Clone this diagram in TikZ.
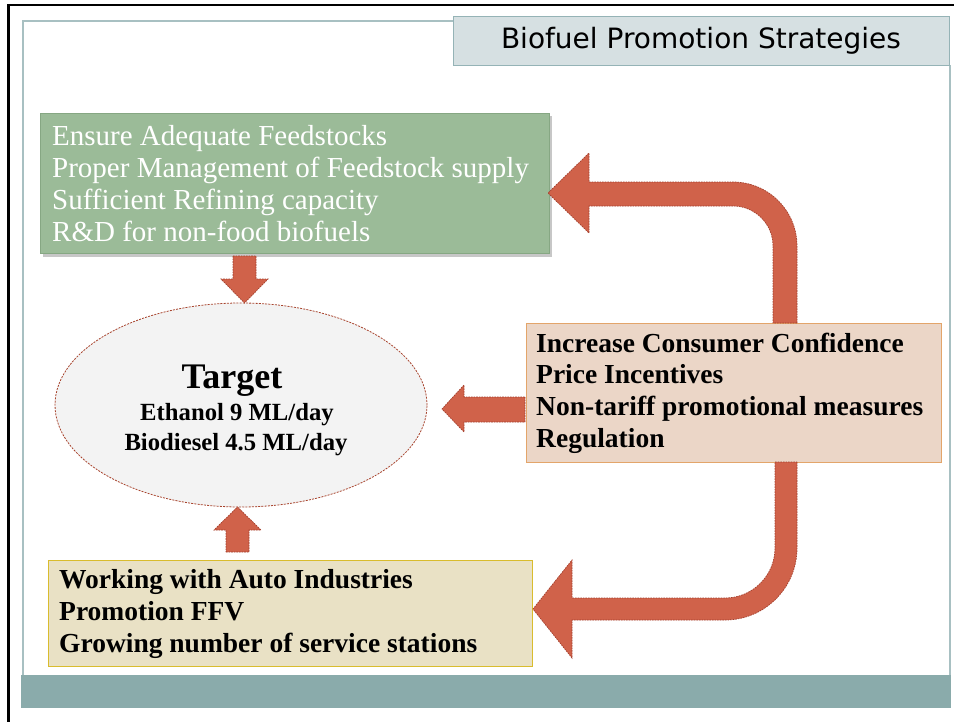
\documentclass[tikz,border=0pt]{standalone}
\usepackage{fontspec}
\setmainfont{Liberation Serif}
\newfontfamily\titlefont{DejaVu Sans}
\usetikzlibrary{shapes.geometric}
\definecolor{slideline}{HTML}{A8C0C2}
\definecolor{titlefill}{HTML}{D6E0E2}
\definecolor{titleedge}{HTML}{95B3B6}
\definecolor{greenfill}{HTML}{9BBB98}
\definecolor{greenedge}{HTML}{86A783}
\definecolor{orangefill}{HTML}{EBD6C7}
\definecolor{orangeedge}{HTML}{E3A56A}
\definecolor{yellowfill}{HTML}{E9E1C5}
\definecolor{yellowedge}{HTML}{D9BC2E}
\definecolor{arrowred}{HTML}{D0624A}
\definecolor{arrowedge}{HTML}{A33E2B}
\definecolor{ellfill}{HTML}{F3F3F3}
\definecolor{elledge}{HTML}{A8442E}
\definecolor{barcol}{HTML}{8AABAB}
\begin{document}
\begin{tikzpicture}[x=1pt,y=-1pt,
  blockarrow/.style={fill=arrowred, draw=arrowedge, line width=0.7pt, dash pattern=on 1.6pt off 1pt},
  infobox/.style={anchor=north west, inner sep=0pt, line width=1pt},
  boxtext/.style={anchor=west, inner sep=0pt, align=left}]
\useasboundingbox (0,0) rectangle (954,721);
\fill[white] (0,0) rectangle (954,721);
% frame
\draw[line width=2.5pt, line cap=rect] (954,5) -- (8.5,5) -- (8.5,721);
\draw[slideline, line width=1.2pt] (453,21) -- (23,21) -- (23,675);
\draw[slideline, line width=1.2pt] (950,65) -- (950,675);
\fill[barcol] (21,675) rectangle (951,708);
% title
\node[fill=titlefill, draw=titleedge, line width=1pt, minimum width=496pt, minimum height=49pt, inner sep=0pt,
  text height=21pt, text depth=5pt,
  font=\titlefont\fontsize{28}{32}\selectfont] (title) at (701,40.5) {Biofuel Promotion Strategies};
% green box
\fill[black, opacity=0.22] (43,116) rectangle (552,256.5);
\node[infobox, fill=greenfill, draw=greenedge, minimum width=509pt, minimum height=140pt] (supply) at (40,113) {};
\node[boxtext, text=white, font=\fontsize{29}{32}\selectfont] (supplytext) at ([xshift=12pt]supply.west)
  {Ensure Adequate Feedstocks\\Proper Management of Feedstock supply\\Sufficient Refining capacity\\R\&D for non-food biofuels};
% orange box
\node[infobox, fill=orangefill, draw=orangeedge, minimum width=415pt, minimum height=139pt] (market) at (526,323) {};
\node[boxtext, font=\bfseries\fontsize{27.5}{31.7}\selectfont] (markettext) at ([xshift=10pt]market.west)
  {Increase Consumer Confidence\\Price Incentives\\Non-tariff promotional measures\\Regulation};
% yellow box
\node[infobox, fill=yellowfill, draw=yellowedge, minimum width=484pt, minimum height=106pt] (auto) at (48,560) {};
\node[boxtext, font=\bfseries\fontsize{27.5}{32}\selectfont] (autotext) at ([xshift=11pt]auto.west)
  {Working with Auto Industries\\Promotion FFV\\Growing number of service stations};
% ellipse
\node[ellipse, draw=elledge, fill=ellfill, line width=0.8pt, dash pattern=on 2pt off 1.2pt,
  minimum width=372pt, minimum height=204pt, inner sep=0pt] (target) at (241,405) {};
\node[anchor=base, font=\bfseries\fontsize{36}{40}\selectfont] (ttitle) at (232,388) {Target};
\node[anchor=base, font=\bfseries\fontsize{24.7}{30}\selectfont] (teth) at (237,420) {Ethanol 9 ML/day};
\node[anchor=base, font=\bfseries\fontsize{24.7}{30}\selectfont] (tbio) at (236,450) {Biodiesel 4.5 ML/day};
% straight arrows
\draw[blockarrow] (233,256) -- (256,256) -- (256,279) -- (268,279) -- (244.5,303) -- (221,279) -- (233,279) -- cycle;
\draw[blockarrow] (226,552) -- (249,552) -- (249,530) -- (261,530) -- (237.5,507) -- (214,530) -- (226,530) -- cycle;
\draw[blockarrow] (525,397) -- (525,422) -- (464,422) -- (464,432) -- (442,409) -- (464,385) -- (464,397) -- cycle;
% bent arrow up to green box
\draw[blockarrow] (797,323) -- (797,246) arc[start angle=0, end angle=-90, radius=64]
  -- (589,182) -- (589,153) -- (548,193) -- (589,233) -- (589,206) -- (733,206)
  arc[start angle=-90, end angle=0, radius=40] -- (773,323) -- cycle;
% bent arrow down to yellow box
\draw[blockarrow] (797,462) -- (797,548) arc[start angle=0, end angle=90, radius=72]
  -- (572,620) -- (572,658) -- (533,609) -- (572,560) -- (572,598) -- (725,598)
  arc[start angle=90, end angle=0, radius=50] -- (775,462) -- cycle;
\end{tikzpicture}
\end{document}
